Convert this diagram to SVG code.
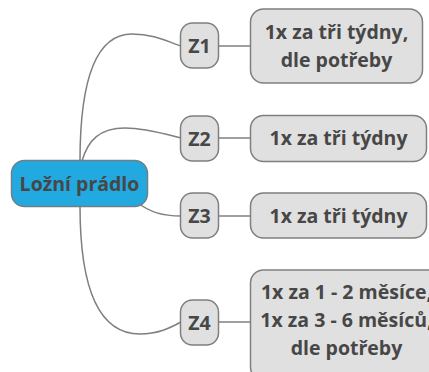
<svg xmlns="http://www.w3.org/2000/svg" width="429" height="372" viewBox="0 0 429 372">
<style>
.box{fill:#e0e0e0;stroke:#7f7f7f;stroke-width:1.5}
.root{fill:#22a9e0;stroke:#6f7f87;stroke-width:1.5}
.t{font-family:"Open Sans","DejaVu Sans",sans-serif;font-weight:bold;font-size:19.5px;fill:#474747;text-anchor:middle;dominant-baseline:central}
.c{fill:none;stroke:#7f7f7f;stroke-width:1.5}
</style>
<rect width="429" height="372" fill="#ffffff"/>
<g id="connectors">
<path class="c" d="M80,161 C80,70 100,34 132,34 C155,34 168,42 181,46"/>
<path class="c" d="M82,161 C88,140 100,128 125,128 C145,128 165,134 181,138"/>
<path class="c" d="M138,203 C150,212 162,216 181,216"/>
<path class="c" d="M80,206 C80,290 100,334 140,334 C158,334 170,328 181,322"/>
<path class="c" d="M218,46 H251"/>
<path class="c" d="M218,138 H251"/>
<path class="c" d="M218,216 H251"/>
<path class="c" d="M218,322 H251"/>
</g>
<g id="root">
<rect class="root" x="11.5" y="160.5" width="136" height="46" rx="13"/>
<text class="t" x="79.5" y="183">Ložní prádlo</text>
</g>
<g id="z1">
<rect class="box" x="180.5" y="23" width="38" height="45" rx="12"/>
<text class="t" x="199.5" y="45">Z1</text>
</g>
<g id="z2">
<rect class="box" x="180.5" y="116" width="38" height="45" rx="12"/>
<text class="t" x="199.5" y="138">Z2</text>
</g>
<g id="z3">
<rect class="box" x="180.5" y="193" width="38" height="45" rx="12"/>
<text class="t" x="199.5" y="215">Z3</text>
</g>
<g id="z4">
<rect class="box" x="180.5" y="300" width="38" height="45" rx="12"/>
<text class="t" x="199.5" y="322">Z4</text>
</g>
<g id="leaf1">
<rect class="box" x="250.5" y="9" width="172" height="74" rx="13"/>
<text class="t" x="336.5" y="31.5">1x za tři týdny,</text>
<text class="t" x="336.5" y="59.5">dle potřeby</text>
</g>
<g id="leaf2">
<rect class="box" x="250.5" y="115.5" width="176" height="46" rx="13"/>
<text class="t" x="338.5" y="137.5">1x za tři týdny</text>
</g>
<g id="leaf3">
<rect class="box" x="250.5" y="193" width="176" height="45" rx="13"/>
<text class="t" x="338.5" y="215">1x za tři týdny</text>
</g>
<g id="leaf4">
<rect class="box" x="250.5" y="270" width="192" height="110" rx="13"/>
<text class="t" x="346.5" y="291.5">1x za 1 - 2 měsíce,</text>
<text class="t" x="346.5" y="319.5">1x za 3 - 6 měsíců,</text>
<text class="t" x="346.5" y="347.5">dle potřeby</text>
</g>
</svg>
